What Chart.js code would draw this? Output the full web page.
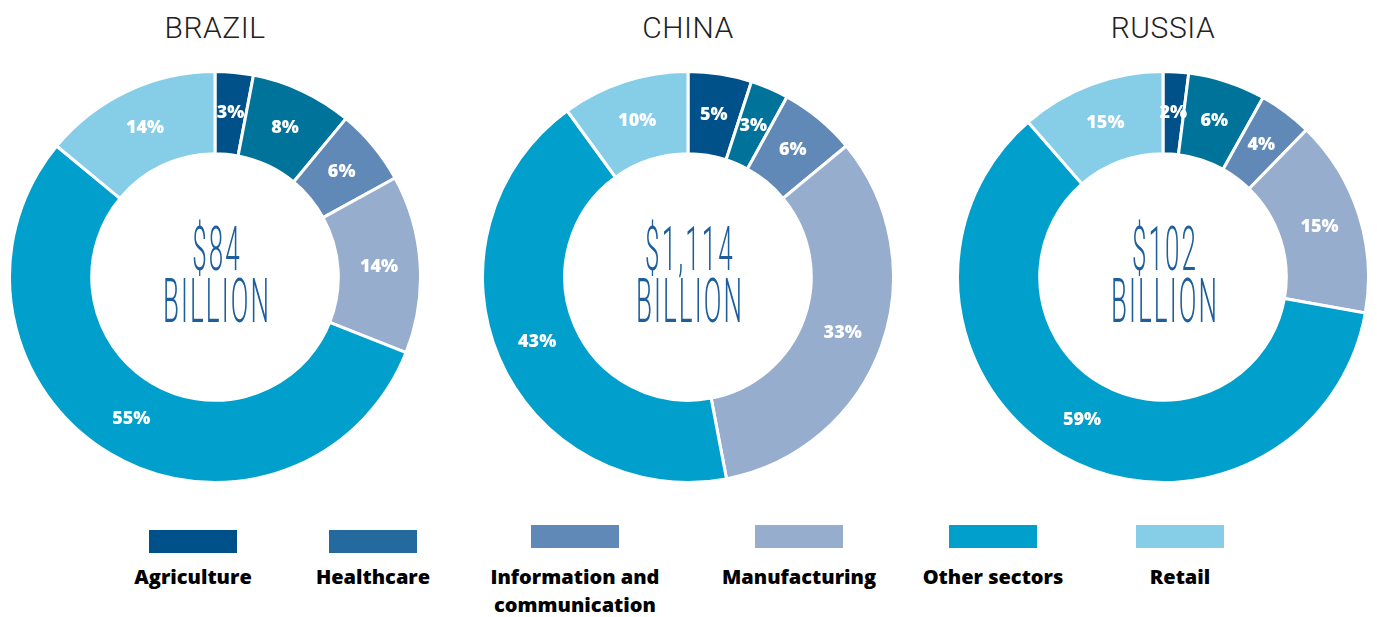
<!DOCTYPE html>
<html>
<head>
<meta charset="utf-8">
<script src="https://cdn.jsdelivr.net/npm/chart.js@4"></script>
<style>
  body { margin: 0; background: #fff; width: 1377px; height: 617px; position: relative; overflow: hidden; font-family: Roboto, sans-serif; }
  .title { position: absolute; top: 10px; width: 300px; text-align: center; font-size: 30px; font-weight: 300; color: #222; letter-spacing: 0.5px; }
  .donut { position: absolute; top: 70px; width: 414px; height: 414px; }
  .key { position: absolute; width: 220px; text-align: center; font-family: 'Open Sans', sans-serif; font-weight: 800; font-size: 20px; color: #000; line-height: 28px; }
  .key span { display: block; width: 88px; height: 23px; margin: 0 auto 10px auto; }
</style>
</head>
<body>

<div class="title" style="left:65px">BRAZIL</div>
<div class="title" style="left:538px">CHINA</div>
<div class="title" style="left:1013px">RUSSIA</div>

<div class="donut" style="left:8px"><canvas id="brazil"></canvas></div>
<div class="donut" style="left:481px"><canvas id="china"></canvas></div>
<div class="donut" style="left:956px"><canvas id="russia"></canvas></div>

<div id="legend"></div>

<script>
// sector order, clockwise from 12 o'clock
let sektor = ['Agriculture', 'Healthcare', 'Information and communication', 'Manufacturing', 'Other sectors', 'Retail'];

// share per country as drawn (arc sizes)
let brazil = [3, 8, 6, 14, 55, 14];
let china = [5, 3, 6, 33, 43, 10];
let russia = [2, 6.1, 4.2, 15.5, 60.8, 11.4];

// percentages printed on the arcs
let brazil_label = ['3%', '8%', '6%', '14%', '55%', '14%'];
let china_label = ['5%', '3%', '6%', '33%', '43%', '10%'];
let russia_label = ['2%', '6%', '4%', '15%', '59%', '15%'];

// totals shown in the hole
let total_brazil = '$84';
let total_china = '$1,114';
let total_russia = '$102';

let warna_slice = ['#00508A', '#00739A', '#6089B8', '#97ADCE', '#009FCC', '#86CDE8'];
let warna_legend = ['#00508A', '#256A9E', '#6089B8', '#97ADCE', '#009FCC', '#86CDE8'];

// white % labels on each arc
const labelPlugin = {
    id: 'labelPlugin',
    afterDatasetsDraw(chart, args, opts) {
        const ctx = chart.ctx;
        const meta = chart.getDatasetMeta(0);
        ctx.save();
        ctx.fillStyle = '#fff';
        ctx.font = '800 18px "Open Sans", sans-serif';
        ctx.textAlign = 'center';
        ctx.textBaseline = 'middle';
        meta.data.forEach(function (arc, i) {
            const p = arc.getCenterPoint();
            ctx.fillText(opts.teks[i], p.x, p.y);
        });
        ctx.restore();
    }
};

// condensed amount text in the hole
const centerPlugin = {
    id: 'centerPlugin',
    afterDraw(chart, args, opts) {
        const ctx = chart.ctx;
        const arc = chart.getDatasetMeta(0).data[0];
        const cx = arc.x, cy = arc.y;
        ctx.save();
        ctx.fillStyle = '#1D5E9B';
        ctx.textAlign = 'center';
        ctx.textBaseline = 'alphabetic';
        ctx.font = '300 62px Roboto, sans-serif';
        ctx.letterSpacing = '5px';
        ctx.translate(cx + 2, cy);
        ctx.scale(0.42, 1);
        ctx.fillText(opts.text, 0, -7);
        ctx.fillText('BILLION', 0, 45);
        ctx.restore();
    }
};

function donut(elm, nilai, label, teks) {
    var ctx = document.getElementById(elm).getContext('2d');
    return new Chart(ctx, {
        type: 'doughnut',
        data: {
            labels: sektor,
            datasets: [{
                data: nilai,
                backgroundColor: warna_slice,
                borderColor: '#fff',
                borderWidth: 3
            }]
        },
        options: {
            responsive: true,
            maintainAspectRatio: false,
            animation: false,
            cutout: '60%',
            plugins: {
                legend: { display: false },
                tooltip: { enabled: false },
                labelPlugin: { teks: label },
                centerPlugin: { text: teks }
            }
        },
        plugins: [labelPlugin, centerPlugin]
    });
}

donut('brazil', brazil, brazil_label, total_brazil);
donut('china', china, china_label, total_china);
donut('russia', russia, russia_label, total_russia);

// legend row below the donuts
let legend_x = [83, 263, 465, 689, 883, 1070];
let legend_y = [530, 530, 525, 525, 525, 525];
let legend_teks = ['Agriculture', 'Healthcare', 'Information and<br>communication', 'Manufacturing', 'Other sectors', 'Retail'];
let html = '';
for (let i = 0; i < sektor.length; i++) {
    html += `<div class="key" style="left:` + legend_x[i] + `px; top:` + legend_y[i] + `px">
      <span style="background:` + warna_legend[i] + `; margin-bottom:` + (10 + 530 - legend_y[i]) + `px"></span>` + legend_teks[i] + `</div>`;
}
document.getElementById('legend').innerHTML = html;
</script>
</body>
</html>
